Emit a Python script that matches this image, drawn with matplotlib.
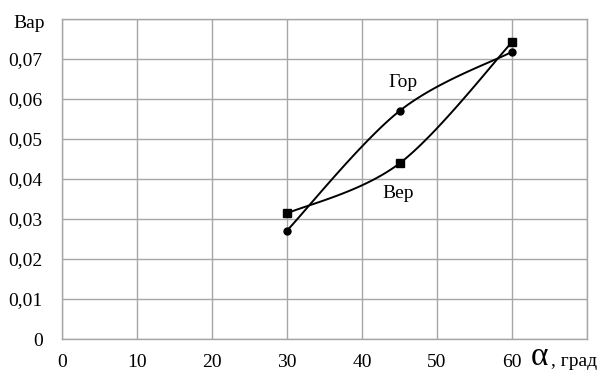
import numpy as np
import matplotlib
matplotlib.use("Agg")
import matplotlib.pyplot as plt

angles = [30, 45, 60]
gor = [0.0271, 0.0570, 0.0718]
ver = [0.0314, 0.0439, 0.0742]
x_ticks = [0, 10, 20, 30, 40, 50, 60]
y_ticks = [0, 0.01, 0.02, 0.03, 0.04, 0.05, 0.06, 0.07]
y_labels = ["0", "0,01", "0,02", "0,03", "0,04", "0,05", "0,06", "0,07"]

plt.rcParams['font.family'] = ['Liberation Serif', 'DejaVu Serif']


def smooth(xs, ys, n=40):
    P = np.column_stack([xs, ys]).astype(float)
    P = np.vstack([P[0], P, P[-1]])
    out = []
    for i in range(1, len(P) - 2):
        p0, p1, p2, p3 = P[i - 1], P[i], P[i + 1], P[i + 2]
        c1 = p1 + (p2 - p0) / 6.0
        c2 = p2 - (p3 - p1) / 6.0
        t = np.linspace(0, 1, n)[:, None]
        seg = ((1 - t) ** 3) * p1 + 3 * ((1 - t) ** 2) * t * c1 + 3 * (1 - t) * t ** 2 * c2 + t ** 3 * p2
        out.append(seg if i == 1 else seg[1:])
    arr = np.vstack(out)
    return arr[:, 0], arr[:, 1]


fig = plt.figure(figsize=(6.11, 3.72), dpi=100)
ax = fig.add_axes([62 / 611, 1 - 339 / 372, 525 / 611, 320 / 372])
ax.set_xlim(0, 70)
ax.set_ylim(0, 0.08)
ax.set_xticks(np.arange(0, 71, 10))
ax.set_xticklabels([str(v) for v in x_ticks] + [""])
ax.set_yticks(np.arange(0, 0.081, 0.01))
ax.set_yticklabels(y_labels + [""])
ax.grid(True, color='#a6a6a6', linewidth=1.0)
ax.set_axisbelow(True)
for s in ax.spines.values():
    s.set_color('#a6a6a6')
    s.set_linewidth(1.0)
ax.tick_params(length=0, labelsize=14)
ax.tick_params(axis='y', pad=14)
ax.tick_params(axis='x', pad=11)

gx, gy = smooth(angles, gor)
vx, vy = smooth(angles, ver)
ax.plot(gx, gy, color='black', lw=1.4, zorder=3)
ax.plot(vx, vy, color='black', lw=1.4, zorder=3)
ax.plot(angles, gor, 'o', color='black', ms=5, zorder=4)
ax.plot(angles, ver, 's', color='black', ms=5.5, zorder=4)

ax.text(45.4, 0.0642, "Гор", fontsize=14, ha='center', va='center')
ax.text(44.8, 0.0365, "Вер", fontsize=14, ha='center', va='center')

fig.text(29 / 611, 1 - 23 / 372, "Вар", fontsize=14, ha='center', va='center')
fig.text(531 / 611, 1 - 357 / 372, "α", fontsize=24, ha='left', va='center')
fig.text(551 / 611, 1 - 361 / 372, ", град", fontsize=14, ha='left', va='center')

fig.savefig("out.png", dpi=100)
